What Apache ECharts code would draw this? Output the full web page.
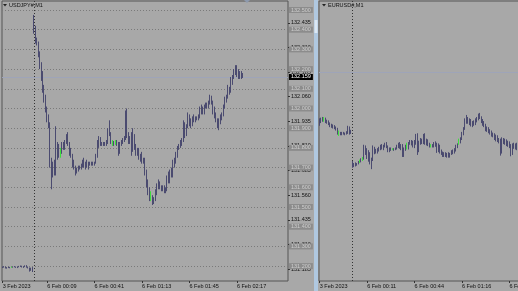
<!DOCTYPE html>
<html><head><meta charset="utf-8">
<script src="https://cdn.jsdelivr.net/npm/echarts@6/dist/echarts.min.js"></script>
<style>html,body{margin:0;padding:0;background:#a8a8a8;overflow:hidden}#c{width:518px;height:291px}</style>
</head><body><div id="c"></div>
<script>
// ---------- USDJPY#,M1 (left panel) ----------
const usdTitle = 'USDJPY#,M1';
const usdTimeLabels = ['3 Feb 2023','6 Feb 00:09','6 Feb 00:41','6 Feb 01:13','6 Feb 01:45','6 Feb 02:17'];
const usdTimeIdx = [0,30,62,94,126,158];
const usdPriceTicks = [131.185,131.310,131.435,131.560,131.685,131.810,131.935,132.060,132.185,132.310,132.435];
const usdLevels = [131.2,131.3,131.4,131.5,131.6,131.7,131.8,131.9,132.0,132.1,132.2,132.3,132.4,132.5];
const usdBid = 132.159;
const usdSessionStart = 21;
const usdOpen = [
131.193,131.196,131.194,131.190,131.193,131.192,131.194,131.194,131.197,131.195,
131.193,131.196,131.199,131.198,131.195,131.197,131.201,131.194,131.190,131.180,
131.188,132.44,132.40,132.34,132.335,132.27,132.21,132.16,132.10,132.05,
132.00,131.95,131.92,131.72,131.66,131.70,131.67,131.80,131.77,131.78,
131.78,131.82,131.80,131.83,131.86,131.82,131.78,131.76,131.72,131.70,
131.68,131.69,131.70,131.695,131.71,131.73,131.71,131.72,131.70,131.72,
131.725,131.715,131.72,131.725,131.76,131.82,131.84,131.82,131.825,131.82,
131.815,131.83,131.88,131.87,131.83,131.83,131.825,131.825,131.82,131.78,
131.82,131.83,131.84,131.85,131.95,131.87,131.83,131.84,131.79,131.86,
131.80,131.77,131.79,131.75,131.76,131.73,131.74,131.68,131.62,131.58,
131.555,131.555,131.53,131.54,131.58,131.60,131.62,131.60,131.59,131.60,
131.58,131.59,131.65,131.64,131.68,131.66,131.72,131.74,131.77,131.80,
131.81,131.83,131.84,131.91,131.87,131.91,131.96,131.93,131.92,131.95,
131.94,131.95,131.945,131.96,131.99,132.00,131.98,132.01,132.02,132.01,
132.03,132.06,132.03,131.99,131.97,131.94,131.92,131.93,131.96,131.97,
132.01,132.05,132.06,132.10,132.09,132.14,132.16,132.19,132.21,132.18,
132.16,132.18,132.17];
const usdHigh = [
131.198,131.200,131.198,131.195,131.197,131.196,131.197,131.199,131.200,131.198,
131.197,131.201,131.203,131.202,131.199,131.204,131.205,131.198,131.193,131.192,
131.195,132.475,132.42,132.36,132.34,132.29,132.235,132.19,132.12,132.07,
132.01,131.97,131.93,131.75,131.73,131.74,131.91,131.83,131.82,131.80,
131.83,131.83,131.84,131.87,131.88,131.83,131.80,131.77,131.74,131.71,
131.70,131.71,131.71,131.72,131.74,131.75,131.73,131.74,131.73,131.73,
131.73,131.73,131.73,131.77,131.84,131.86,131.855,131.83,131.83,131.83,
131.84,131.90,131.94,131.88,131.84,131.835,131.84,131.84,131.83,131.83,
131.84,131.85,131.86,131.99,132.00,131.88,131.86,131.88,131.90,131.87,
131.82,131.80,131.80,131.77,131.78,131.75,131.75,131.69,131.64,131.60,
131.58,131.56,131.55,131.59,131.62,131.64,131.63,131.61,131.61,131.61,
131.60,131.66,131.68,131.69,131.70,131.74,131.75,131.78,131.81,131.82,
131.84,131.85,131.94,131.93,131.92,131.98,131.97,131.95,131.96,131.97,
131.96,131.96,131.97,132.01,132.02,132.01,132.02,132.03,132.03,132.04,
132.07,132.065,132.04,132.01,131.98,131.95,131.95,131.97,131.98,132.02,
132.06,132.07,132.12,132.11,132.16,132.17,132.20,132.22,132.22,132.20,
132.19,132.19,132.18];
const usdLow = [
131.190,131.192,131.188,131.187,131.190,131.189,131.191,131.192,131.194,131.191,
131.190,131.194,131.196,131.193,131.191,131.195,131.192,131.188,131.172,131.176,
131.170,132.38,132.33,132.32,132.26,132.20,132.14,132.08,132.03,131.98,
131.93,131.90,131.70,131.59,131.65,131.66,131.66,131.74,131.75,131.75,
131.77,131.79,131.79,131.82,131.81,131.76,131.75,131.70,131.69,131.66,
131.67,131.68,131.69,131.69,131.70,131.70,131.69,131.70,131.69,131.71,
131.71,131.71,131.71,131.72,131.75,131.80,131.81,131.81,131.81,131.81,
131.81,131.82,131.86,131.82,131.81,131.81,131.815,131.81,131.76,131.77,
131.81,131.82,131.83,131.84,131.85,131.82,131.82,131.76,131.78,131.79,
131.76,131.76,131.74,131.73,131.72,131.72,131.66,131.60,131.56,131.53,
131.53,131.51,131.515,131.53,131.56,131.59,131.59,131.58,131.58,131.57,
131.57,131.58,131.62,131.62,131.65,131.65,131.70,131.72,131.75,131.79,
131.80,131.81,131.83,131.85,131.86,131.90,131.91,131.90,131.91,131.93,
131.93,131.94,131.94,131.95,131.97,131.97,131.97,132.00,132.00,132.00,
132.02,132.02,131.97,131.95,131.93,131.90,131.89,131.92,131.94,131.96,
132.00,132.03,132.05,132.07,132.08,132.12,132.15,132.17,132.16,132.15,
132.15,132.15,132.155];
const usdClose = [
131.196,131.194,131.190,131.193,131.192,131.194,131.194,131.197,131.195,131.193,
131.196,131.199,131.198,131.195,131.197,131.201,131.194,131.190,131.180,131.188,
131.185,132.40,132.34,132.335,132.27,132.21,132.16,132.10,132.05,132.00,
131.95,131.92,131.72,131.66,131.70,131.67,131.80,131.77,131.78,131.78,
131.82,131.80,131.83,131.86,131.82,131.78,131.76,131.72,131.70,131.68,
131.69,131.70,131.695,131.71,131.73,131.71,131.72,131.70,131.72,131.725,
131.715,131.72,131.725,131.76,131.82,131.84,131.82,131.825,131.82,131.815,
131.83,131.88,131.87,131.83,131.83,131.825,131.825,131.82,131.78,131.82,
131.83,131.84,131.85,131.95,131.87,131.83,131.84,131.79,131.86,131.80,
131.77,131.79,131.75,131.76,131.73,131.74,131.68,131.62,131.58,131.555,
131.555,131.53,131.54,131.58,131.60,131.62,131.60,131.59,131.60,131.58,
131.59,131.65,131.64,131.68,131.66,131.72,131.74,131.77,131.80,131.81,
131.83,131.84,131.91,131.87,131.91,131.96,131.93,131.92,131.95,131.94,
131.95,131.945,131.96,131.99,132.00,131.98,132.01,132.02,132.01,132.03,
132.06,132.03,131.99,131.97,131.94,131.92,131.93,131.96,131.97,132.01,
132.05,132.06,132.10,132.09,132.14,132.16,132.19,132.21,132.18,132.16,
132.18,132.17,132.159];

// ---------- EURUSD#,M1 (right panel) ----------
const eurTitle = 'EURUSD#,M1';
const eurTimeLabels = ['3 Feb 2023','6 Feb 00:11','6 Feb 00:44','6 Feb 01:16','6 Feb 01:48'];
const eurTimeIdx = [0,32,64,96,128];
const eurLevels = [1.0770,1.0775,1.0780,1.0785,1.0790,1.0795,1.0800,1.0805,1.0810];
const eurBid = 1.07884;
const eurSessionStart = 22;
const eurOpen = [
1.07925,1.07928,1.07930,1.07931,1.07931,1.07927,1.07926,1.07924,1.07921,1.07920,
1.07919,1.07918,1.07916,1.07910,1.07910,1.07909,1.07910,1.07909,1.07910,1.07911,
1.07918,1.07912,1.07866,1.07862,1.07864,1.07863,1.07865,1.07868,1.07868,1.07873,
1.07873,1.07888,1.07882,1.07876,1.07880,1.07868,1.07871,1.07887,1.07883,1.07884,
1.07886,1.07889,1.07891,1.07888,1.07892,1.07894,1.07890,1.07885,1.07887,1.07886,
1.07886,1.07887,1.07888,1.07892,1.07894,1.07890,1.07892,1.07881,1.07886,1.07890,
1.07890,1.07895,1.07898,1.07895,1.07892,1.07897,1.07904,1.07884,1.07896,1.07900,
1.07896,1.07906,1.07896,1.07899,1.07893,1.07892,1.07892,1.07891,1.07895,1.07893,
1.07884,1.07892,1.07882,1.07880,1.07878,1.07880,1.07877,1.07879,1.07876,1.07880,
1.07883,1.07881,1.07886,1.07891,1.07897,1.07897,1.07902,1.07910,1.07917,1.07929,
1.07931,1.07927,1.07930,1.07923,1.07925,1.07923,1.07930,1.07932,1.07936,1.07934,
1.07927,1.07924,1.07921,1.07916,1.07918,1.07912,1.07913,1.07907,1.07909,1.07902,
1.07905,1.07899,1.07900,1.07882,1.07900,1.07897,1.07899,1.07894,1.07896,1.07891,
1.07880,1.07892,1.07890,1.07893,1.07888];
const eurHigh = [
1.07932,1.07933,1.07934,1.07934,1.07933,1.07930,1.07929,1.07926,1.07924,1.07923,
1.07922,1.07920,1.07918,1.07914,1.07912,1.07912,1.07912,1.07911,1.07913,1.07921,
1.07920,1.07915,1.07869,1.07866,1.07867,1.07866,1.07869,1.07871,1.07873,1.07875,
1.07893,1.07892,1.07888,1.07885,1.07882,1.07874,1.07892,1.07890,1.07887,1.07888,
1.07890,1.07893,1.07894,1.07893,1.07896,1.07897,1.07892,1.07889,1.07889,1.07888,
1.07888,1.07889,1.07893,1.07896,1.07897,1.07894,1.07894,1.07889,1.07893,1.07896,
1.07897,1.07900,1.07900,1.07899,1.07900,1.07909,1.07910,1.07899,1.07903,1.07902,
1.07909,1.07910,1.07902,1.07901,1.07896,1.07894,1.07894,1.07897,1.07898,1.07896,
1.07895,1.07893,1.07886,1.07883,1.07882,1.07882,1.07881,1.07882,1.07881,1.07885,
1.07886,1.07888,1.07893,1.07895,1.07902,1.07904,1.07912,1.07919,1.07932,1.07937,
1.07934,1.07932,1.07931,1.07928,1.07929,1.07932,1.07934,1.07939,1.07940,1.07935,
1.07931,1.07928,1.07924,1.07920,1.07919,1.07916,1.07914,1.07911,1.07910,1.07908,
1.07907,1.07903,1.07902,1.07904,1.07903,1.07902,1.07901,1.07899,1.07898,1.07894,
1.07895,1.07896,1.07895,1.07896,1.07891];
const eurLow = [
1.07921,1.07925,1.07927,1.07927,1.07925,1.07924,1.07922,1.07919,1.07918,1.07917,
1.07916,1.07914,1.07908,1.07906,1.07907,1.07907,1.07908,1.07907,1.07908,1.07909,
1.07908,1.07909,1.07859,1.07860,1.07861,1.07862,1.07864,1.07866,1.07867,1.07869,
1.07871,1.07878,1.07872,1.07868,1.07864,1.07857,1.07869,1.07879,1.07880,1.07880,
1.07883,1.07885,1.07886,1.07885,1.07889,1.07888,1.07882,1.07882,1.07884,1.07885,
1.07884,1.07885,1.07886,1.07888,1.07887,1.07885,1.07875,1.07875,1.07884,1.07886,
1.07886,1.07893,1.07892,1.07889,1.07888,1.07893,1.07878,1.07882,1.07893,1.07894,
1.07894,1.07893,1.07892,1.07891,1.07889,1.07889,1.07889,1.07889,1.07890,1.07881,
1.07882,1.07880,1.07878,1.07875,1.07875,1.07875,1.07874,1.07874,1.07874,1.07878,
1.07879,1.07880,1.07883,1.07888,1.07893,1.07895,1.07900,1.07907,1.07915,1.07924,
1.07924,1.07922,1.07920,1.07919,1.07921,1.07922,1.07926,1.07929,1.07931,1.07925,
1.07921,1.07919,1.07913,1.07912,1.07910,1.07908,1.07905,1.07904,1.07900,1.07898,
1.07897,1.07895,1.07877,1.07880,1.07894,1.07893,1.07891,1.07890,1.07888,1.07876,
1.07878,1.07887,1.07886,1.07885,1.07884];
const eurClose = [
1.07928,1.07930,1.07931,1.07931,1.07927,1.07926,1.07924,1.07921,1.07920,1.07919,
1.07918,1.07916,1.07910,1.07910,1.07909,1.07910,1.07909,1.07910,1.07911,1.07918,
1.07912,1.07913,1.07862,1.07864,1.07863,1.07865,1.07868,1.07868,1.07872,1.07873,
1.07888,1.07882,1.07876,1.07880,1.07868,1.07871,1.07887,1.07883,1.07884,1.07886,
1.07889,1.07891,1.07888,1.07892,1.07894,1.07890,1.07885,1.07887,1.07886,1.07886,
1.07887,1.07888,1.07892,1.07894,1.07890,1.07892,1.07881,1.07886,1.07890,1.07890,
1.07895,1.07898,1.07895,1.07892,1.07897,1.07904,1.07884,1.07896,1.07900,1.07896,
1.07906,1.07896,1.07899,1.07893,1.07892,1.07892,1.07891,1.07895,1.07893,1.07884,
1.07892,1.07882,1.07880,1.07878,1.07880,1.07877,1.07879,1.07876,1.07880,1.07883,
1.07881,1.07886,1.07891,1.07893,1.07897,1.07902,1.07910,1.07917,1.07929,1.07931,
1.07927,1.07930,1.07923,1.07925,1.07923,1.07930,1.07932,1.07936,1.07934,1.07927,
1.07924,1.07921,1.07916,1.07918,1.07912,1.07913,1.07907,1.07909,1.07902,1.07905,
1.07899,1.07900,1.07882,1.07900,1.07897,1.07899,1.07894,1.07896,1.07891,1.07880,
1.07892,1.07890,1.07893,1.07888,1.07886];

// ---------- rendering ----------
const SLOTS = 193;
const USD_MIN = 131.1244, USD_MAX = 132.5457;
const EUR_MIN = 1.076919, EUR_MAX = 1.081052;
const BG = '#a8a8a8', BAR = '#4b4b70', DOJI = '#3ede3e', LEVEL = '#7a7a7a';
const FONT = 'Liberation Sans';

function cats(idx, labels) {
  const a = new Array(SLOTS).fill('');
  idx.forEach((k, j) => { a[k] = labels[j]; });
  return a;
}
function bars(o, h, l, c) {
  return o.map((v, i) => {
    const item = { value: [v, c[i], l[i], h[i]] };
    if (v === c[i]) item.itemStyle = { color: DOJI, color0: DOJI, borderColor: DOJI, borderColor0: DOJI };
    return item;
  });
}
function levelLines(levels, digits, showLabel) {
  return levels.map(v => ({
    yAxis: v,
    lineStyle: { type: [1, 2], color: LEVEL, width: 1 },
    label: { show: showLabel, position: 'end', distance: 1, formatter: v.toFixed(digits),
      backgroundColor: '#8c8c8c', color: '#cdcdcd', fontSize: 5.5, fontFamily: FONT, padding: [0, 2, 0, 2], lineHeight: 6 }
  }));
}
function xAxisFor(grid, idx, labels) {
  return {
    type: 'category', gridIndex: grid, data: cats(idx, labels), boundaryGap: true,
    axisLine: { show: false },
    axisTick: { show: true, alignWithLabel: true, length: 2, interval: (i) => idx.includes(i), lineStyle: { color: '#333' } },
    axisLabel: { interval: 0, align: 'left', fontSize: 5.5, fontFamily: FONT, color: '#111', margin: 2 },
    splitLine: { show: false }
  };
}
const candleStyle = { color: BAR, color0: BAR, borderColor: BAR, borderColor0: BAR, borderWidth: 1 };

const option = {
  backgroundColor: BG,
  animation: false,
  grid: [
    { left: 2, top: 1, width: 286, height: 280, show: true, borderColor: '#555', borderWidth: 1, backgroundColor: 'transparent', outerBoundsMode: 'none', containLabel: false },
    { left: 319, top: 1, width: 286, height: 280, show: true, borderColor: '#555', borderWidth: 1, backgroundColor: 'transparent', outerBoundsMode: 'none', containLabel: false }
  ],
  xAxis: [ xAxisFor(0, usdTimeIdx, usdTimeLabels), xAxisFor(1, eurTimeIdx, eurTimeLabels) ],
  yAxis: [
    { type: 'value', gridIndex: 0, position: 'right', min: USD_MIN, max: USD_MAX,
      axisLine: { show: false },
      axisTick: { show: true, length: 2, customValues: usdPriceTicks, lineStyle: { color: '#333' } },
      axisLabel: { customValues: usdPriceTicks, formatter: v => v.toFixed(3), fontSize: 5.5, fontFamily: FONT, color: '#111', margin: 3 },
      splitLine: { show: false } },
    { type: 'value', gridIndex: 1, position: 'right', min: EUR_MIN, max: EUR_MAX, show: false, splitLine: { show: false } }
  ],
  series: [
    { type: 'candlestick', xAxisIndex: 0, yAxisIndex: 0, barWidth: 1, itemStyle: candleStyle,
      data: bars(usdOpen, usdHigh, usdLow, usdClose), silent: true,
      markLine: { silent: true, symbol: ['none', 'none'], animation: false, z: 1,
        data: levelLines(usdLevels, 3, true).concat([
          { yAxis: usdBid, lineStyle: { type: 'solid', color: '#9ea4b8', width: 1 },
            label: { show: true, position: 'end', distance: 1, formatter: usdBid.toFixed(3), backgroundColor: '#000', color: '#fff',
              fontSize: 5.5, fontFamily: FONT, padding: [0, 2, 0, 2], lineHeight: 6 } },
          { xAxis: usdSessionStart, lineStyle: { type: [1, 2], color: '#333', width: 1 }, label: { show: false } }
        ]) } },
    { type: 'candlestick', xAxisIndex: 1, yAxisIndex: 1, barWidth: 1, itemStyle: candleStyle,
      data: bars(eurOpen, eurHigh, eurLow, eurClose), silent: true,
      markLine: { silent: true, symbol: ['none', 'none'], animation: false, z: 1,
        data: levelLines(eurLevels, 4, false).concat([
          { yAxis: eurBid, lineStyle: { type: 'solid', color: '#9ea4b8', width: 1 }, label: { show: false } },
          { xAxis: eurSessionStart, lineStyle: { type: [1, 2], color: '#333', width: 1 }, label: { show: false } }
        ]) } }
  ],
  graphic: [
    { type: 'rect', shape: { x: 314, y: 0, width: 4, height: 291 }, style: { fill: '#b0c8e0' }, silent: true },
    { type: 'rect', shape: { x: 314.5, y: 20, width: 3, height: 13 }, style: { fill: '#dce8f4' }, silent: true },
    { type: 'polygon', shape: { points: [[244, 0], [250, 0], [247, 3]] }, style: { fill: '#8d9aae' }, silent: true },
    { type: 'polygon', shape: { points: [[3, 4], [7, 4], [5, 6.5]] }, style: { fill: '#222' }, silent: true },
    { type: 'text', x: 9, y: 2.5, style: { text: usdTitle, fontSize: 5.5, fontFamily: FONT, fill: '#111' }, silent: true },
    { type: 'polygon', shape: { points: [[322, 4], [326, 4], [324, 6.5]] }, style: { fill: '#222' }, silent: true },
    { type: 'text', x: 328, y: 2.5, style: { text: eurTitle, fontSize: 5.5, fontFamily: FONT, fill: '#111' }, silent: true }
  ]
};
const chart = echarts.init(document.getElementById('c'));
chart.setOption(option);
</script>
</body></html>
